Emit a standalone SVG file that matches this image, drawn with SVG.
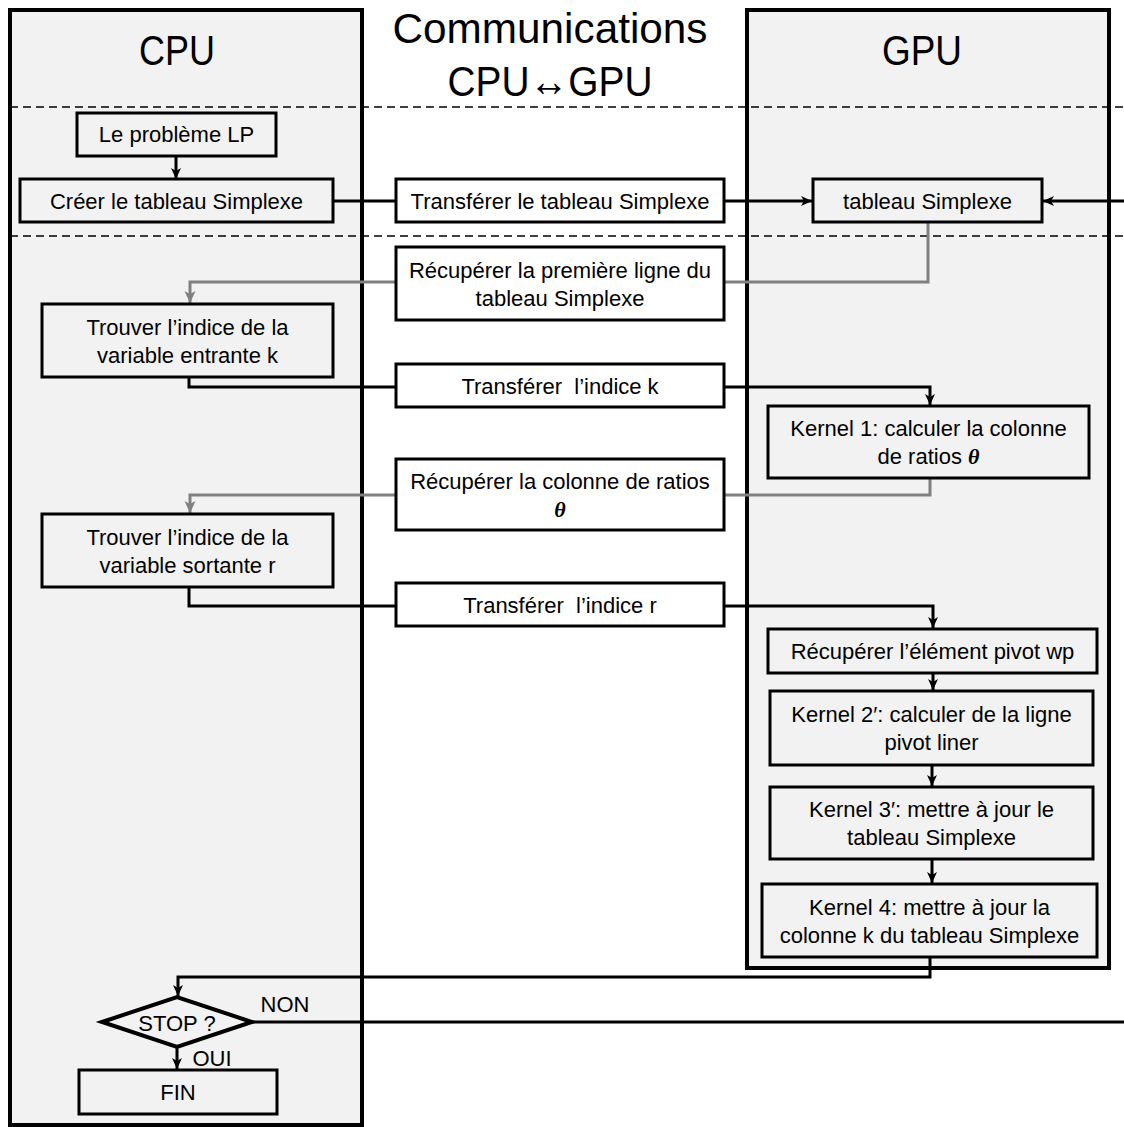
<svg xmlns="http://www.w3.org/2000/svg" width="1124" height="1127" viewBox="0 0 1124 1127">
<style>
  text { font-family: "Liberation Sans", Arial, sans-serif; fill: #000; text-anchor: middle; }
  .title { font-size: 43px; }
  .lbl { font-size: 22px; }
  .panel { fill: #f2f2f2; stroke: #000; stroke-width: 4; }
  .box { fill: #f2f2f2; stroke: #000; stroke-width: 3; }
  .mbox { fill: #ffffff; stroke: #000; stroke-width: 3; }
  .dash { stroke: #000; stroke-width: 1.5; stroke-dasharray: 8 5; fill: none; }
  .blk { stroke: #000; stroke-width: 3; fill: none; }
  .gry { stroke: #808080; stroke-width: 3; fill: none; }
  .th { font-family: "Liberation Serif", "Times New Roman", serif; font-style: italic; font-weight: bold; }
</style>
<defs>
  <marker id="ah" markerUnits="userSpaceOnUse" markerWidth="12" markerHeight="12" refX="11" refY="6" orient="auto">
    <path d="M0,1 L11,6 L0,11 L3,6 z" fill="#000"/>
  </marker>
  <marker id="ahg" markerUnits="userSpaceOnUse" markerWidth="13" markerHeight="13" refX="12" refY="6.5" orient="auto">
    <path d="M0,1 L12,6.5 L0,12 L3,6.5 z" fill="#808080"/>
  </marker>
</defs>
<rect width="1124" height="1127" fill="#fff"/>
<g id="panels">
  <rect id="cpu-panel" class="panel" x="10" y="10" width="352" height="1115"/>
  <rect id="gpu-panel" class="panel" x="747" y="10" width="362" height="958"/>
  <text class="title" x="177" y="65" textLength="76" lengthAdjust="spacingAndGlyphs">CPU</text>
  <text class="title" x="922" y="65" textLength="80" lengthAdjust="spacingAndGlyphs">GPU</text>
  <text class="title" x="550" y="43" textLength="315" lengthAdjust="spacingAndGlyphs">Communications</text>
  <text class="title" x="550" y="96" textLength="205" lengthAdjust="spacingAndGlyphs">CPU↔GPU</text>
  <line class="dash" x1="10" y1="107" x2="1124" y2="107"/>
  <line class="dash" x1="10" y1="236" x2="1124" y2="236"/>
</g>
<g id="connectors">
  <path class="blk" d="M176,156 V179" marker-end="url(#ah)"/>
  <path class="blk" d="M333,201 H396"/>
  <path class="blk" d="M724,201 H812" marker-end="url(#ah)"/>
  <path class="blk" d="M1124,201 H1043" marker-end="url(#ah)"/>
  <path class="gry" d="M928,222 V282 H190 V303" marker-end="url(#ahg)"/>
  <path class="blk" d="M189,377 V387 H930 V405" marker-end="url(#ah)"/>
  <path class="gry" d="M930,478 V495 H190 V513" marker-end="url(#ahg)"/>
  <path class="blk" d="M189,587 V606 H933 V628" marker-end="url(#ah)"/>
  <path class="blk" d="M933,673 V690" marker-end="url(#ah)"/>
  <path class="blk" d="M932,765 V786" marker-end="url(#ah)"/>
  <path class="blk" d="M932,859 V883" marker-end="url(#ah)"/>
  <path class="blk" d="M930,957 V977 H178 V996" marker-end="url(#ah)"/>
  <path class="blk" d="M252,1022 H1124"/>
  <path class="blk" d="M177,1047 V1069" marker-end="url(#ah)"/>
  <text class="lbl" x="285" y="1012">NON</text>
  <text class="lbl" x="212" y="1066">OUI</text>
</g>
<g id="n-lp"><rect class="box" x="77" y="113" width="199" height="43"/><text class="lbl" x="176.5" y="142">Le problème LP</text></g>
<g id="n-creer"><rect class="box" x="20" y="179" width="313" height="43"/><text class="lbl" x="176.5" y="209">Créer le tableau Simplexe</text></g>
<g id="n-transfer1"><rect class="mbox" x="396" y="179" width="328" height="43"/><text class="lbl" x="560" y="209">Transférer le tableau Simplexe</text></g>
<g id="n-tabgpu"><rect class="box" x="813" y="179" width="229" height="43"/><text class="lbl" x="927.5" y="209">tableau Simplexe</text></g>
<g id="n-recup1"><rect class="mbox" x="396" y="247" width="328" height="73"/><text class="lbl" x="560" y="278">Récupérer la première ligne du</text><text class="lbl" x="560" y="306">tableau Simplexe</text></g>
<g id="n-trouverk"><rect class="box" x="42" y="304" width="291" height="73"/><text class="lbl" x="187.5" y="335">Trouver l’indice de la</text><text class="lbl" x="187.5" y="363">variable entrante k</text></g>
<g id="n-transk"><rect class="mbox" x="396" y="364" width="328" height="43"/><text class="lbl" x="560" y="394" xml:space="preserve">Transférer  l’indice k</text></g>
<g id="n-kernel1"><rect class="box" x="768" y="406" width="321" height="72"/><text class="lbl" x="928.5" y="436">Kernel 1: calculer la colonne</text><text class="lbl" x="928.5" y="464">de ratios <tspan class="th">θ</tspan></text></g>
<g id="n-recup2"><rect class="mbox" x="396" y="459" width="328" height="71"/><text class="lbl" x="560" y="489">Récupérer la colonne de ratios</text><text class="lbl th" x="560" y="517">θ</text></g>
<g id="n-trouverr"><rect class="box" x="42" y="514" width="291" height="73"/><text class="lbl" x="187.5" y="545">Trouver l’indice de la</text><text class="lbl" x="187.5" y="573">variable sortante r</text></g>
<g id="n-transr"><rect class="mbox" x="396" y="583" width="328" height="43"/><text class="lbl" x="560" y="613" xml:space="preserve">Transférer  l’indice r</text></g>
<g id="n-pivot"><rect class="box" x="768" y="629" width="329" height="44"/><text class="lbl" x="932.5" y="659">Récupérer l’élément pivot wp</text></g>
<g id="n-kernel2"><rect class="box" x="770" y="691" width="323" height="74"/><text class="lbl" x="931.5" y="722">Kernel 2′: calculer de la ligne</text><text class="lbl" x="931.5" y="750">pivot liner</text></g>
<g id="n-kernel3"><rect class="box" x="770" y="787" width="323" height="72"/><text class="lbl" x="931.5" y="817">Kernel 3′: mettre à jour le</text><text class="lbl" x="931.5" y="845">tableau Simplexe</text></g>
<g id="n-kernel4"><rect class="box" x="762" y="884" width="335" height="73"/><text class="lbl" x="929.5" y="915">Kernel 4: mettre à jour la</text><text class="lbl" x="929.5" y="943">colonne k du tableau Simplexe</text></g>
<g id="n-stop"><polygon points="102,1022 177,997 252,1022 177,1047" fill="#f2f2f2" stroke="#000" stroke-width="4" stroke-linejoin="miter"/><text class="lbl" x="177" y="1031">STOP ?</text></g>
<g id="n-fin"><rect class="box" x="79" y="1070" width="198" height="44"/><text class="lbl" x="178" y="1100">FIN</text></g>
</svg>
